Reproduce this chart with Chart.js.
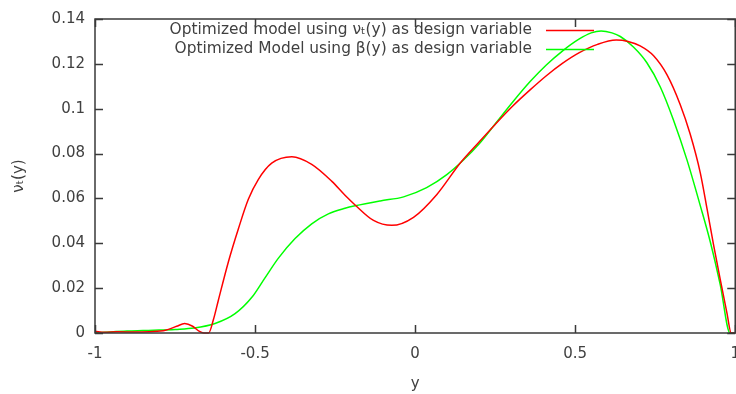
<!DOCTYPE html>
<html>
<head>
<meta charset="utf-8">
<script src="https://cdn.jsdelivr.net/npm/chart.js@4/dist/chart.umd.min.js"></script>
<style>
  html, body { margin: 0; padding: 0; background: #ffffff; overflow: hidden; }
  #wrap { width: 752px; height: 394px; }
</style>
</head>
<body>
<div id="wrap"><canvas id="c" width="752" height="394"></canvas></div>
<script>
// Optimized turbulent viscosity profiles across the channel, y in [-1, 1]
const redY = [-1.00, -0.97, -0.93, -0.88, -0.83, -0.78, -0.745, -0.72, -0.695, -0.675, -0.66, -0.645,
  -0.63, -0.615, -0.583, -0.552, -0.521, -0.49, -0.448, -0.385, -0.323, -0.26, -0.219, -0.1875, -0.13,
  -0.073, -0.005, 0.068, 0.141, 0.20, 0.25, 0.305, 0.36, 0.409, 0.46, 0.513, 0.57, 0.628, 0.665,
  0.703, 0.745, 0.787, 0.828, 0.859, 0.891, 0.912, 0.932, 0.953, 0.974, 0.9875, 1.00];
const redNu = [0.0008, 0.0003, 0.0006, 0.0004, 0.0006, 0.0012, 0.003, 0.0042, 0.003, 0.0008, 0.0, 0.0,
  0.006, 0.0144, 0.0319, 0.0465, 0.0596, 0.0684, 0.0757, 0.0786, 0.0752, 0.0676, 0.0614, 0.0571, 0.0502,
  0.048, 0.0516, 0.0618, 0.0758, 0.0852, 0.0930, 0.1012, 0.1085, 0.1146, 0.1202, 0.1250, 0.1287, 0.1306, 0.1300,
  0.1280, 0.1236, 0.1151, 0.1019, 0.0888, 0.0713, 0.0553, 0.0395, 0.0240, 0.0090, 0.0, 0.0];

const greenY = [-1.00, -0.95, -0.90, -0.85, -0.80, -0.75, -0.69, -0.625, -0.5625, -0.51, -0.469, -0.427,
  -0.375, -0.323, -0.271, -0.219, -0.1875, -0.109, -0.036, 0.036, 0.099, 0.151, 0.201, 0.25, 0.305,
  0.36, 0.409, 0.46, 0.513, 0.55, 0.581, 0.615, 0.641, 0.682, 0.724, 0.766, 0.807, 0.849, 0.891,
  0.922, 0.953, 0.984, 1.00];
const greenNu = [0.0, 0.0005, 0.0009, 0.0011, 0.0013, 0.0016, 0.0022, 0.0042, 0.0086, 0.0159, 0.0246, 0.0334,
  0.0421, 0.0487, 0.0531, 0.0556, 0.0567, 0.0589, 0.0607, 0.0648, 0.0706, 0.0771, 0.0845, 0.0932, 0.1030,
  0.1122, 0.1194, 0.1257, 0.1311, 0.1338, 0.1347, 0.1338, 0.1322, 0.1275, 0.1205, 0.1097, 0.0950, 0.0773, 0.0567,
  0.0407, 0.0217, 0.0, 0.0];

const seriesLabels = [
  'Optimized model using \u03bd\u209c(y) as design variable',
  'Optimized Model using \u03b2(y) as design variable'
];
const xTickLabels = ['-1', '-0.5', '0', '0.5', '1'];
const yTickLabels = ['0', '0.02', '0.04', '0.06', '0.08', '0.1', '0.12', '0.14'];
const xTitle = 'y';
const yTitle = '\u03bd\u209c(y)';

const FONT = 'DejaVu Sans';
const FONT_SIZE = 15;
const KEY_FONT_SIZE = 15.4;
const TEXT = '#404040';
const FRAME = '#3a3a3a';

const toPoints = (xs, ys) => xs.map((x, i) => ({ x: x, y: ys[i] }));

// Frame around the plot area with inward ticks on all four sides
const framePlugin = {
  id: 'frame',
  afterDatasetsDraw(chart) {
    const { ctx, chartArea: a, scales } = chart;
    const len = 8;
    ctx.save();
    ctx.strokeStyle = FRAME;
    ctx.lineWidth = 1.5;
    ctx.beginPath();
    scales.x.ticks.forEach(t => {
      const px = Math.round(scales.x.getPixelForValue(t.value)) + 0.5;
      ctx.moveTo(px, a.bottom); ctx.lineTo(px, a.bottom - len);
      ctx.moveTo(px, a.top); ctx.lineTo(px, a.top + len);
    });
    scales.y.ticks.forEach(t => {
      const py = Math.round(scales.y.getPixelForValue(t.value)) + 0.5;
      ctx.moveTo(a.left, py); ctx.lineTo(a.left + len, py);
      ctx.moveTo(a.right, py); ctx.lineTo(a.right - len, py);
    });
    ctx.stroke();
    ctx.strokeRect(a.left, a.top, a.right - a.left, a.bottom - a.top);
    ctx.restore();
  }
};

// Key drawn inside the plot: right-aligned text followed by a line sample
const keyPlugin = {
  id: 'key',
  afterDatasetsDraw(chart) {
    const { ctx } = chart;
    const textRight = 532, lineFrom = 546, lineTo = 594;
    const rows = [30, 49];
    ctx.save();
    ctx.font = KEY_FONT_SIZE + 'px "' + FONT + '"';
    ctx.textAlign = 'right';
    ctx.textBaseline = 'middle';
    chart.data.datasets.forEach((ds, i) => {
      ctx.fillStyle = TEXT;
      ctx.fillText(ds.label, textRight, rows[i]);
      ctx.strokeStyle = ds.borderColor;
      ctx.lineWidth = 1.5;
      ctx.beginPath();
      ctx.moveTo(lineFrom, rows[i] + 0.5);
      ctx.lineTo(lineTo, rows[i] + 0.5);
      ctx.stroke();
    });
    ctx.restore();
  }
};

new Chart(document.getElementById('c'), {
  type: 'scatter',
  data: {
    datasets: [
      {
        label: seriesLabels[0],
        data: toPoints(redY, redNu),
        showLine: true,
        borderColor: '#ff0000',
        borderWidth: 1.5,
        pointRadius: 0,
        cubicInterpolationMode: 'monotone',
        clip: 2
      },
      {
        label: seriesLabels[1],
        data: toPoints(greenY, greenNu),
        showLine: true,
        borderColor: '#00ff00',
        borderWidth: 1.5,
        pointRadius: 0,
        cubicInterpolationMode: 'monotone',
        clip: 2
      }
    ]
  },
  options: {
    responsive: false,
    animation: false,
    events: [],
    layout: { padding: { top: 13, right: 0, left: 0, bottom: 0 } },
    plugins: { legend: { display: false }, tooltip: { enabled: false } },
    scales: {
      x: {
        type: 'linear',
        min: -1, max: 1,
        grid: { display: false, drawTicks: false },
        border: { display: false },
        afterBuildTicks(scale) {
          scale.ticks = xTickLabels.map(s => ({ value: parseFloat(s) }));
        },
        ticks: {
          padding: 12,
          maxRotation: 0,
          color: TEXT,
          font: { family: FONT, size: FONT_SIZE },
          callback: (v, i) => xTickLabels[i]
        },
        title: {
          display: true, text: xTitle, color: TEXT,
          font: { family: FONT, size: FONT_SIZE },
          padding: { top: 8, bottom: 1 }
        },
        afterFit(scale) { scale.height = 61; }
      },
      y: {
        type: 'linear',
        min: 0, max: 0.14,
        grid: { display: false, drawTicks: false },
        border: { display: false },
        afterBuildTicks(scale) {
          scale.ticks = yTickLabels.map(s => ({ value: parseFloat(s) }));
        },
        ticks: {
          padding: 10,
          color: TEXT,
          font: { family: FONT, size: FONT_SIZE },
          callback: (v, i) => yTickLabels[i]
        },
        title: {
          display: true, text: yTitle, color: TEXT,
          font: { family: FONT, size: FONT_SIZE },
          padding: { top: 10, bottom: 4 }
        },
        afterFit(scale) { scale.width = 95; }
      }
    }
  },
  plugins: [framePlugin, keyPlugin]
});
</script>
</body>
</html>
